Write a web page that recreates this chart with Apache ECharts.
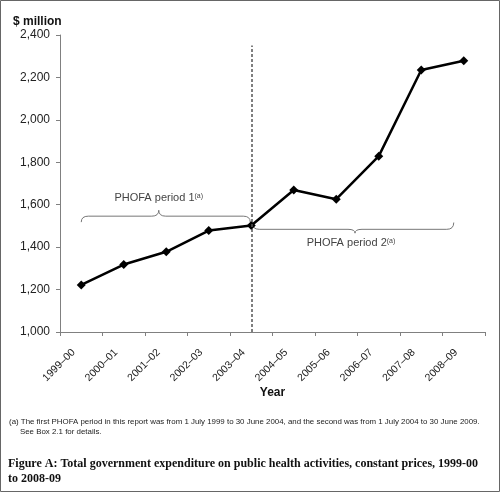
<!DOCTYPE html>
<html>
<head>
<meta charset="utf-8">
<script src="https://cdn.jsdelivr.net/npm/echarts@6/dist/echarts.min.js"></script>
<style>
  html, body { margin: 0; padding: 0; background: #fff; }
  #chart { width: 500px; height: 492px; }
</style>
</head>
<body>
<div id="chart"></div>
<script>
const years = ['1999–00', '2000–01', '2001–02', '2002–03', '2003–04', '2004–05', '2005–06', '2006–07', '2007–08', '2008–09']
const spending = [1222, 1318, 1378, 1478, 1502, 1669, 1626, 1829, 2235, 2279]
const yTicks = [1000, 1200, 1400, 1600, 1800, 2000, 2200, 2400]
const periodSplit = '2003–04'

const footnote = '(a) The first PHOFA period in this report was from 1 July 1999 to 30 June 2004, and the second was from 1 July 2004 to 30 June 2009.\n     See Box 2.1 for details.'
const caption = 'Figure A: Total government expenditure on public health activities, constant prices, 1999-00\nto 2008-09'

const chart = echarts.init(document.getElementById('chart'))

const option = {
  backgroundColor: '#fff',
  animation: false,
  textStyle: { fontFamily: 'Liberation Sans, Arial, sans-serif' },
  title: [
    {
      text: '$ million',
      left: 8, top: 11,
      textStyle: { fontSize: 12, fontWeight: 'bold', color: '#111' }
    },
    {
      text: footnote,
      left: 4, top: 412,
      textStyle: { fontSize: 7.9, fontWeight: 'normal', color: '#222', lineHeight: 10 }
    },
    {
      text: caption,
      left: 3, top: 452,
      textStyle: {
        fontFamily: 'Liberation Serif, serif',
        fontSize: 12, fontWeight: 'bold', color: '#111', lineHeight: 14.5
      }
    }
  ],
  grid: { left: 60, right: 15, top: 35, bottom: 160, outerBoundsMode: 'none' },
  xAxis: {
    type: 'category',
    data: years,
    boundaryGap: true,
    name: 'Year',
    nameLocation: 'middle',
    nameGap: 55,
    nameMoveOverlap: false,
    nameTextStyle: { fontSize: 12, fontWeight: 'bold', color: '#111' },
    axisLine: { lineStyle: { color: '#808080', width: 1 } },
    axisTick: { show: true, length: 4, lineStyle: { color: '#808080' } },
    axisLabel: { rotate: 45, fontSize: 10.5, color: '#222', margin: 11, padding: [0, 11, 0, 0], interval: 0 }
  },
  yAxis: {
    type: 'value',
    min: yTicks[0],
    max: yTicks[yTicks.length - 1],
    interval: 200,
    axisLine: { show: true, lineStyle: { color: '#808080', width: 1 } },
    axisTick: { show: true, length: 4, lineStyle: { color: '#808080' } },
    splitLine: { show: false },
    axisLabel: {
      fontSize: 12, color: '#222', margin: 10,
      formatter: v => v.toLocaleString('en-US')
    }
  },
  series: [
    {
      type: 'line',
      data: spending,
      symbol: 'diamond',
      symbolSize: 9,
      itemStyle: { color: '#000' },
      lineStyle: { color: '#000', width: 2.5 },
      z: 3,
      markLine: {
        silent: true,
        symbol: 'none',
        label: { show: false },
        lineStyle: { color: '#555', width: 1.5, type: [3, 2] },
        data: [[{ coord: [periodSplit, 1000] }, { coord: [periodSplit, 2350] }]]
      }
    }
  ]
}

chart.setOption(option)

// braces and period labels, placed from the chart's own scales
const px = (cat, val) => chart.convertToPixel({ gridIndex: 0 }, [cat, val])

const braceStyle = { fill: 'none', stroke: '#777', lineWidth: 1 }

// a curly brace built from quadratic curves and straight lines
const brace = (x1, x2, xt, yEnd, yBase, yTip) => {
  const r = 7
  const curve = (ax, ay, cx, cy, bx, by) => ({
    type: 'bezierCurve', silent: true,
    shape: { x1: ax, y1: ay, cpx1: cx, cpy1: cy, x2: bx, y2: by },
    style: braceStyle
  })
  const line = (ax, ay, bx, by) => ({
    type: 'line', silent: true,
    shape: { x1: ax, y1: ay, x2: bx, y2: by },
    style: braceStyle
  })
  return [
    curve(x1, yEnd, x1, yBase, x1 + r, yBase),
    line(x1 + r, yBase, xt - r, yBase),
    curve(xt - r, yBase, xt, yBase, xt, yTip),
    curve(xt, yTip, xt, yBase, xt + r, yBase),
    line(xt + r, yBase, x2 - r, yBase),
    curve(x2 - r, yBase, x2, yBase, x2, yEnd)
  ]
}

const p1a = px(years[0], 1518)
const p1b = px(periodSplit, 1546)
const p1t = px(years[2], 1574)
const b1x1 = p1a[0], b1x2 = p1b[0] - 1, b1xt = (b1x1 + b1x2) / 2 - 7
const p2a = px(periodSplit, 1516)
const p2b = px(years[years.length - 1], 1484)
const p2t = px(years[7], 1466)
const b2x1 = p2a[0] + 1, b2x2 = p2b[0] - 10, b2xt = (b2x1 + b2x2) / 2 + 2

const periodLabel = (n) => ({
  text: '{m|PHOFA period ' + n + '}{s|(a)}',
  rich: {
    m: { fontSize: 11, fill: '#444', fontFamily: 'Liberation Sans, Arial, sans-serif' },
    s: { fontSize: 7, fill: '#444', fontFamily: 'Liberation Sans, Arial, sans-serif', verticalAlign: 'top', padding: [0, 0, 5, 0] }
  },
  align: 'center',
  verticalAlign: 'middle'
})

chart.setOption({
  graphic: [
    {
      type: 'rect', silent: true,
      shape: { x: 0.5, y: 0.5, width: 499, height: 491 },
      style: { fill: 'none', stroke: '#666', lineWidth: 1 }
    },
    ...brace(b1x1, b1x2, b1xt, p1a[1], p1b[1], p1t[1]),
    ...brace(b2x1, b2x2, b2xt, p2a[1], p2b[1], p2t[1]),
    {
      type: 'text', silent: true,
      x: b1xt, y: p1t[1] - 12,
      style: periodLabel(1)
    },
    {
      type: 'text', silent: true,
      x: b2xt - 4, y: p2t[1] + 10,
      style: periodLabel(2)
    }
  ]
})

window.addEventListener('resize', () => chart.resize())
</script>
</body>
</html>
